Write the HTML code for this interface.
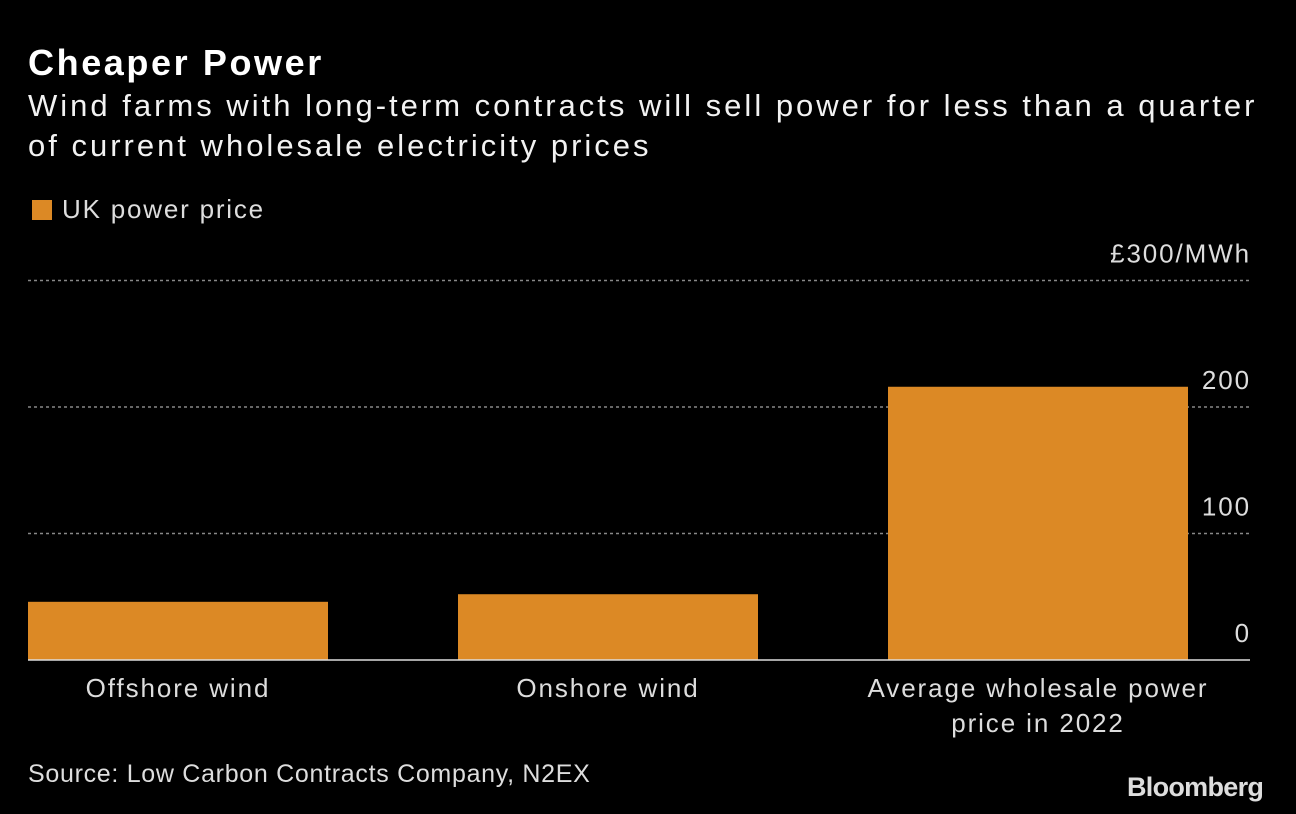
<!DOCTYPE html>
<html><head><meta charset="utf-8"><style>
body{margin:0;background:#000;width:1296px;height:814px;overflow:hidden;font-family:"Liberation Sans",sans-serif;color:#fff;position:relative}
.t{position:absolute;white-space:nowrap}
</style></head><body>
<div class="t" style="left:28px;top:42px;font-size:36px;font-weight:bold;letter-spacing:2.6px">Cheaper Power</div>
<div class="t" style="left:28px;top:86px;font-size:31px;line-height:40px;color:#f2f2f2;letter-spacing:3px">Wind farms with long-term contracts will sell power for less than a quarter<br>of current wholesale electricity prices</div>
<div class="t" style="left:32px;top:194px;font-size:26px;color:#ddd;letter-spacing:1.8px"><span style="display:inline-block;width:20px;height:20px;background:#dc8925;vertical-align:-2px;margin-right:10px"></span>UK power price</div>
<svg id="c" width="1296" height="814" style="position:absolute;left:0;top:0"></svg>
<div class="t" style="left:28px;top:760px;font-size:25px;color:#ddd;letter-spacing:0.7px">Source: Low Carbon Contracts Company, N2EX</div>
<div class="t" style="left:1127px;top:772px;font-size:27px;font-weight:bold;color:#ddd;letter-spacing:-0.7px">Bloomberg</div>
<script>
const categories=["Offshore wind","Onshore wind","Average wholesale power|price in 2022"];
const values=[46,52,216];
const ticks=[0,100,200,300];
const tickLabels=["0","100","200","£300/MWh"];
const svg=document.getElementById('c');const NS="http://www.w3.org/2000/svg";
const y0=660,scale=1.265;const y=v=>y0-v*scale;
function mk(t,a){const e=document.createElementNS(NS,t);for(const k in a)e.setAttribute(k,a[k]);svg.appendChild(e);return e;}
ticks.forEach((t,i)=>{
 if(t>0){const l=mk('line',{x1:28,x2:1250,y1:y(t),y2:y(t),stroke:'#888','stroke-dasharray':'3,3','stroke-width':1.5});
 
 }
 const tx=mk('text',{x:1251,y:y(t)-18,'text-anchor':'end','font-size':26,fill:'#ddd','letter-spacing':'1.9','font-family':'Liberation Sans, sans-serif'});
 tx.textContent=tickLabels[i];
 
 
});
const bw=300,step=430;
values.forEach((v,i)=>{
 const x=28+i*step;
 const r=mk('rect',{x:x,y:y(v),width:bw,height:v*scale,fill:'#dc8925'});
 
 
 categories[i].split('|').forEach((s,j)=>{
  const tx=mk('text',{x:x+bw/2,y:697+j*35,'text-anchor':'middle','font-size':26,fill:'#ddd','letter-spacing':'1.9','font-family':'Liberation Sans, sans-serif'});
  tx.textContent=s;
  
  
 });
});
const ax=mk('line',{x1:28,x2:1250,y1:y0,y2:y0,stroke:'#ddd','stroke-width':1.5});


</script>
</body></html>
